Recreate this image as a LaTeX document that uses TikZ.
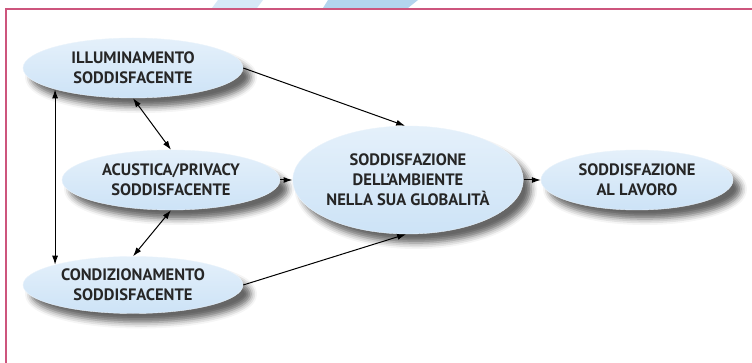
\documentclass[tikz,border=0pt]{standalone}
\usepackage{fontspec}
\setmainfont{PT Sans}
\usetikzlibrary{shapes.geometric,shadows.blur,arrows.meta}
\definecolor{framered}{RGB}{205,85,125}
\definecolor{swlight}{RGB}{214,232,247}
\definecolor{swdark}{RGB}{179,213,238}
\definecolor{cloud}{RGB}{196,222,245}

\begin{document}
\begin{tikzpicture}[x=1pt, y=-1pt, >={Latex[length=9pt,width=6pt]},
    factor/.style={ellipse, inner sep=0pt, minimum width=220pt, minimum height=60pt,
      align=center, font=\fontsize{16.5}{20}\selectfont\bfseries, text=black!85,
      top color=cloud!45, middle color=white, bottom color=cloud!85, draw=cloud!35,
      blur shadow={shadow xshift=8pt, shadow yshift=-9pt, shadow blur radius=6pt, shadow opacity=60}},
    link/.style={line width=1pt}]
    \useasboundingbox (0,0) rectangle (752,363);
    \fill[swlight] (212,8) -- (218,0) -- (263,0) -- (257,8) -- cycle;
    \fill[swdark] (323,8) -- (328,0) -- (418,0) -- (408,8) -- cycle;
    \draw[framered, line width=2pt] (6,363) -- (6,9) -- (752,9);

    \node[factor] (illum) at (133,68) {ILLUMINAMENTO\\SODDISFACENTE};
    \node[factor, minimum width=218pt] (acust) at (171,180) {ACUSTICA/PRIVACY\\SODDISFACENTE};
    \node[factor, minimum height=57pt] (cond) at (133,285) {CONDIZIONAMENTO\\SODDISFACENTE};
    \node[factor, minimum width=188pt, minimum height=108pt] (glob) at (408,180) {SODDISFAZIONE\\DELL'AMBIENTE\\NELLA SUA GLOBALITÀ};
    \node[factor, minimum width=192pt] (lavoro) at (637,180) {SODDISFAZIONE\\AL LAVORO};

    \draw[link, ->] (illum.east) -- (glob.93);
    \draw[link, <->] (illum.south) -- (acust.north);
    \draw[link, <->] (illum.south west) -- (cond.north west);
    \draw[link, ->] (acust.east) -- (glob.west);
    \draw[link, <->] (acust.south) -- (cond.north);
    \draw[link, ->] (cond.east) -- (glob.268);
    \draw[link, ->] (glob.east) -- (lavoro.west);
\end{tikzpicture}
\end{document}
